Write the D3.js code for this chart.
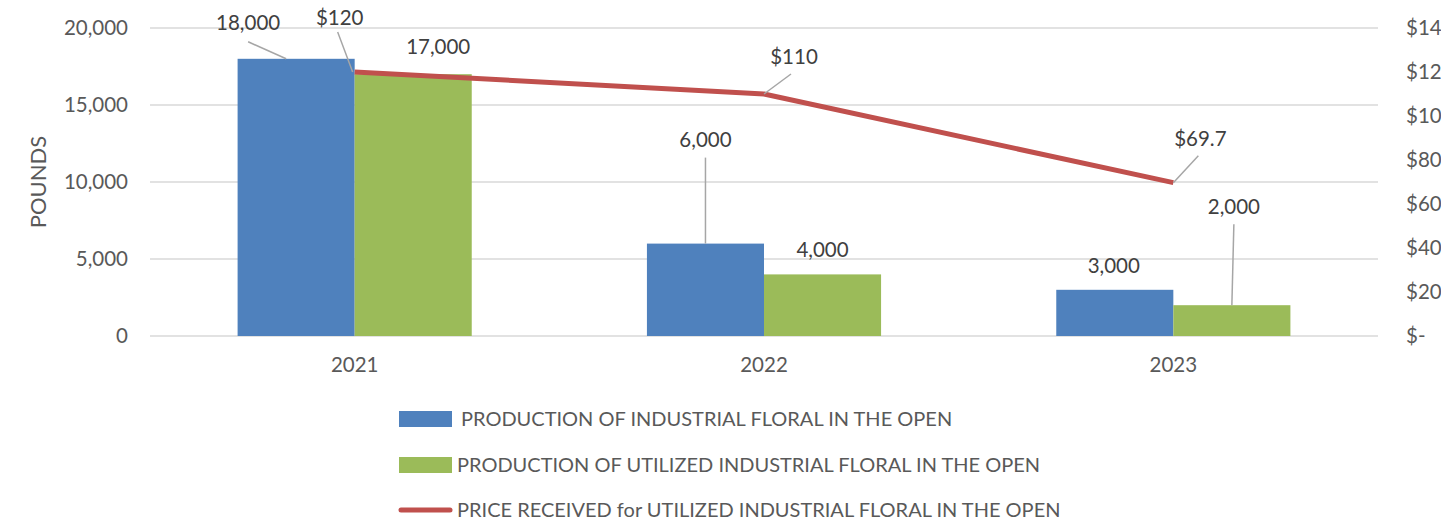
<!DOCTYPE html>
<html>
<head>
<meta charset="utf-8">
<script src="https://cdn.jsdelivr.net/npm/d3@7"></script>
<style>
  body { margin: 0; background: #fff; }
  svg { font-family: Lato, "Open Sans", sans-serif; }
</style>
</head>
<body>
<svg id="chart"></svg>
<script>
// Industrial floral in the open: production (pounds) and price received
const years = ["2021", "2022", "2023"];
const production = [18000, 6000, 3000];
const utilized = [17000, 4000, 2000];
const price = [120, 110, 69.7];
const poundTicks = [0, 5000, 10000, 15000, 20000];
const priceTicks = [0, 20, 40, 60, 80, 100, 120, 140];
const seriesNames = [
    " PRODUCTION OF INDUSTRIAL FLORAL IN THE OPEN",
    "PRODUCTION OF UTILIZED INDUSTRIAL FLORAL IN THE OPEN",
    "PRICE RECEIVED for UTILIZED INDUSTRIAL FLORAL IN THE OPEN"
];

const W = 1441, H = 523;
const margin = { top: 28, right: 63, bottom: 187, left: 150 },
    width = W - margin.left - margin.right,
    height = H - margin.top - margin.bottom;

const colors = { prod: "#4F81BD", util: "#9BBB59", price: "#C0504D" };
const fs = 20.5;

const svg = d3.select("#chart").attr("width", W).attr("height", H);
const g = svg.append("g").attr("transform", `translate(${margin.left},${margin.top})`);

const x0 = d3.scaleBand().domain(years).range([0, width]).paddingInner(0.428).paddingOuter(0.214);
const x1 = d3.scaleBand().domain(["prod", "util"]).range([0, x0.bandwidth()]);
const y = d3.scaleLinear().domain([0, 20000]).range([height, 0]);
const y2 = d3.scaleLinear().domain([0, 140]).range([height, 0]);

// gridlines
g.selectAll(".grid")
    .data(poundTicks)
    .enter().append("line")
    .attr("x1", 0).attr("x2", width)
    .attr("y1", d => y(d)).attr("y2", d => y(d))
    .attr("stroke", "#D9D9D9").attr("stroke-width", 1.5);

// left axis
const leftAxis = g.append("g")
    .call(d3.axisLeft(y).tickValues(poundTicks).tickFormat(d3.format(",")).tickSize(0).tickPadding(22));
leftAxis.select(".domain").remove();
leftAxis.selectAll("text").attr("font-size", fs).attr("fill", "#595959").attr("font-family", "Lato, sans-serif");

// right axis (the reference crops these at the page edge)
const rightAxis = g.append("g")
    .attr("transform", `translate(${width},0)`)
    .call(d3.axisRight(y2).tickValues(priceTicks).tickFormat(d => d === 0 ? "$-" : "$" + d).tickSize(0).tickPadding(28));
rightAxis.select(".domain").remove();
rightAxis.selectAll("text").attr("font-size", fs).attr("fill", "#595959").attr("font-family", "Lato, sans-serif");

// bottom axis
const bottomAxis = g.append("g")
    .attr("transform", `translate(0,${height})`)
    .call(d3.axisBottom(x0).tickSize(0).tickPadding(21));
bottomAxis.select(".domain").remove();
bottomAxis.selectAll("text").attr("font-size", fs).attr("fill", "#595959").attr("font-family", "Lato, sans-serif");

// y title
g.append("text")
    .attr("transform", `translate(${38 - margin.left},${y(10000)}) rotate(-90)`)
    .attr("text-anchor", "middle")
    .attr("dy", "0.35em")
    .attr("font-size", 22)
    .attr("fill", "#595959")
    .text("POUNDS");

// bars
const groups = g.selectAll(".year")
    .data(years)
    .enter().append("g")
    .attr("transform", d => `translate(${x0(d)},0)`);

groups.append("rect")
    .attr("x", x1("prod"))
    .attr("y", (d, i) => y(production[i]))
    .attr("width", x1.bandwidth())
    .attr("height", (d, i) => height - y(production[i]))
    .attr("fill", colors.prod);

groups.append("rect")
    .attr("x", x1("util"))
    .attr("y", (d, i) => y(utilized[i]))
    .attr("width", x1.bandwidth())
    .attr("height", (d, i) => height - y(utilized[i]))
    .attr("fill", colors.util);

// price line
const cx = d => x0(d) + x0.bandwidth() / 2;
const line = d3.line()
    .x((d, i) => cx(years[i]))
    .y(d => y2(d));

g.append("path")
    .datum(price)
    .attr("fill", "none")
    .attr("stroke", colors.price)
    .attr("stroke-width", 5)
    .attr("stroke-linejoin", "round")
    .attr("d", line);

// data labels (label offsets from the anchor point, leader line when set)
const labels = [];
years.forEach((yr, i) => {
    labels.push({ ax: x0(yr) + x1("prod") + x1.bandwidth() / 2, ay: y(production[i]), text: d3.format(",")(production[i]) });
    labels.push({ ax: x0(yr) + x1("util") + x1.bandwidth() / 2, ay: y(utilized[i]), text: d3.format(",")(utilized[i]) });
    labels.push({ ax: cx(yr), ay: y2(price[i]), text: "$" + price[i] });
});
// order: prod21, util21, price21, prod22, util22, price22, prod23, util23, price23
const offsets = [
    { lx: -48, ly: -36, leader: [ -48, -17, -10, 0 ] },
    { lx: 25, ly: -27, leader: null },
    { lx: -15, ly: -54, leader: [ -17, -40, -2, 0 ] },
    { lx: 0, ly: -104, leader: [ 0, -86, 0, 0 ] },
    { lx: 0, ly: -25, leader: null },
    { lx: 30, ly: -37, leader: [ 27, -20, 0, 0 ] },
    { lx: -1, ly: -24, leader: null },
    { lx: 2, ly: -98, leader: [ 2, -81, 0, 0 ] },
    { lx: 27, ly: -44, leader: [ 25, -27, 0, 0 ] }
];

const lab = g.selectAll(".label")
    .data(labels)
    .enter().append("g");

lab.filter((d, i) => offsets[i].leader)
    .append("line")
    .attr("x1", d => d.ax + offsets[labels.indexOf(d)].leader[0])
    .attr("y1", d => d.ay + offsets[labels.indexOf(d)].leader[1])
    .attr("x2", d => d.ax + offsets[labels.indexOf(d)].leader[2])
    .attr("y2", d => d.ay + offsets[labels.indexOf(d)].leader[3])
    .attr("stroke", "#A6A6A6")
    .attr("stroke-width", 1.5);

lab.append("text")
    .attr("x", (d, i) => d.ax + offsets[i].lx)
    .attr("y", (d, i) => d.ay + offsets[i].ly)
    .attr("dy", "0.35em")
    .attr("text-anchor", "middle")
    .attr("font-size", fs)
    .attr("fill", "#404040")
    .text(d => d.text);

// legend
const legend = svg.append("g").attr("transform", "translate(399,0)");
const legendRows = [
    { y: 419, type: "rect", color: colors.prod, tx: 62 },
    { y: 465, type: "rect", color: colors.util, tx: 58 },
    { y: 510, type: "line", color: colors.price, tx: 58 }
];
legendRows.forEach((r, i) => {
    if (r.type === "rect") {
        legend.append("rect")
            .attr("x", 0).attr("y", r.y - 8)
            .attr("width", 53).attr("height", 16)
            .attr("fill", r.color);
    } else {
        legend.append("line")
            .attr("x1", 2).attr("x2", 51)
            .attr("y1", r.y).attr("y2", r.y)
            .attr("stroke", r.color).attr("stroke-width", 5)
            .attr("stroke-linecap", "round");
    }
    legend.append("text")
        .attr("x", r.tx)
        .attr("y", r.y)
        .attr("dy", "0.35em")
        .attr("font-size", 20)
        .attr("fill", "#595959")
        .text(seriesNames[i]);
});
</script>
</body>
</html>
